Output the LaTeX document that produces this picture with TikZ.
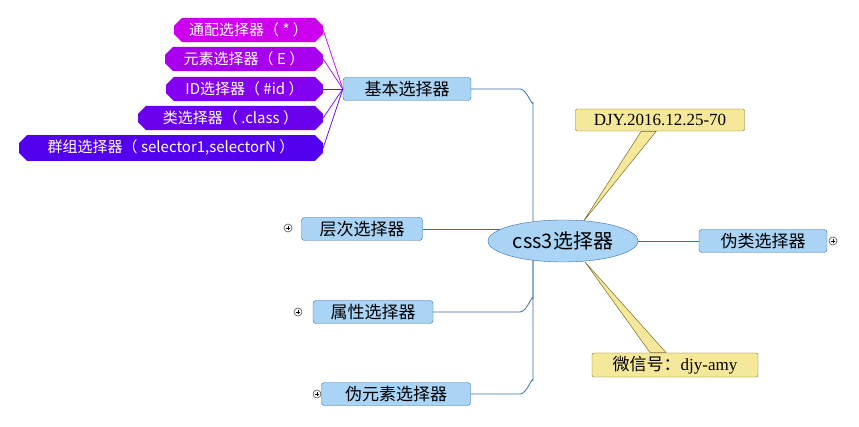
\documentclass[tikz,border=0pt]{standalone}
\usepackage{fontspec}
\setmainfont{Liberation Sans}
\newfontfamily\cjk{Noto Sans CJK SC}
\newfontfamily\serif{Liberation Serif}
\usetikzlibrary{shapes.misc,shapes.geometric}
\definecolor{bl}{HTML}{A9D4F5}
\definecolor{bd}{HTML}{3A6EA5}
\definecolor{yl}{HTML}{F5E89A}
\definecolor{yd}{HTML}{7A6A2A}
\definecolor{pa}{HTML}{CC00EE}
\definecolor{pb}{HTML}{A800EE}
\definecolor{pc}{HTML}{8400F0}
\definecolor{pd}{HTML}{6A00EE}
\definecolor{pe}{HTML}{5200EE}
\begin{document}
\begin{tikzpicture}[x=1pt,y=-1pt,
 br/.style={draw=bd,fill=bl,rounded corners=3pt,minimum height=23pt,inner sep=1pt,font=\cjk\fontsize{17}{18}\selectfont},
 sub/.style={fill=#1,chamfered rectangle,chamfered rectangle xsep=5pt,chamfered rectangle corners={north east,south east,north west,south west},chamfered rectangle angle=45,chamfered rectangle sep=4pt,minimum height=22pt,inner sep=1pt,text=white,font=\cjk\fontsize{15}{16}\selectfont},
 note/.style={draw=yd,fill=yl,rounded corners=2pt,minimum height=22pt,inner sep=1pt,font=\serif\fontsize{17}{18}\selectfont},
 plus/.style={draw=black!70,circle,inner sep=0pt,minimum size=8pt,line width=0.6pt},
 con/.style={draw=bd,line width=0.8pt}]
\useasboundingbox (0,0) rectangle (859,427);
\node[note,minimum width=169pt] (djy) at (660,120) {DJY.2016.12.25-70};
\node[note,minimum width=166pt,minimum height=24pt] (wx) at (675,365) {{\cjk 微信号：}djy-amy};
\fill[yl,draw=yd,line width=0.5pt] (583,222) -- (641,131.5) -- (656,131.5) -- cycle;
\fill[yl,draw=yd,line width=0.5pt] (585,262) -- (650,352.5) -- (666,352.5) -- cycle;
\node[br,minimum width=128pt] (basic) at (407,89) {基本选择器};
\node[br,minimum width=121pt] (ceng) at (362,229) {层次选择器};
\node[br,minimum width=120pt] (attr) at (373,312) {属性选择器};
\node[br,minimum width=149pt] (pe) at (396,394) {伪元素选择器};
\node[br,minimum width=128pt] (pc) at (763,241) {伪类选择器};
\draw[con] (basic.east) -- (520,89) to[out=0,in=-90] (533,102) -- (533,225);
\draw[con] (attr.east) -- (520,312) to[out=0,in=90] (533,299) -- (533,255);
\draw[con] (pe.east) -- (520,394) to[out=0,in=90] (533,381) -- (533,255);
\draw[con] (ceng.east) -- (500,229);
\draw[con] (600,241) -- (pc.west);
\node[draw=bd,fill=bl,ellipse,minimum width=150pt,minimum height=42pt,inner sep=0pt,font=\cjk\fontsize{20}{22}\selectfont] (root) at (563,241) {css3选择器};
\node[sub=pa,minimum width=149pt] (s1) at (248.5,30) {通配选择器（ * ）};
\node[sub=pb,minimum width=158pt] (s2) at (244,59) {元素选择器（ E ）};
\node[sub=pc,minimum width=157pt] (s3) at (244.5,89) {ID选择器（ \#id ）};
\node[sub=pd,minimum width=185pt] (s4) at (230.5,118) {类选择器（ .class ）};
\node[sub=pe,minimum width=304pt] (s5) at (171,148) {群组选择器（ selector1,selectorN ）};
\foreach \s/\c in {s1/pa,s2/pb,s3/pc,s4/pd,s5/pe}
  \draw[\c,line width=0.7pt] (\s.east) -- (basic.west);
\foreach \n/\x/\y in {p1/288/228,p2/298/312,p3/317/394,p4/833/241}{
  \node[plus] (\n) at (\x,\y) {};
  \draw[line width=0.6pt] (\x-2.3,\y) -- (\x+2.3,\y) (\x,\y-2.3) -- (\x,\y+2.3);}
\end{tikzpicture}
\end{document}
